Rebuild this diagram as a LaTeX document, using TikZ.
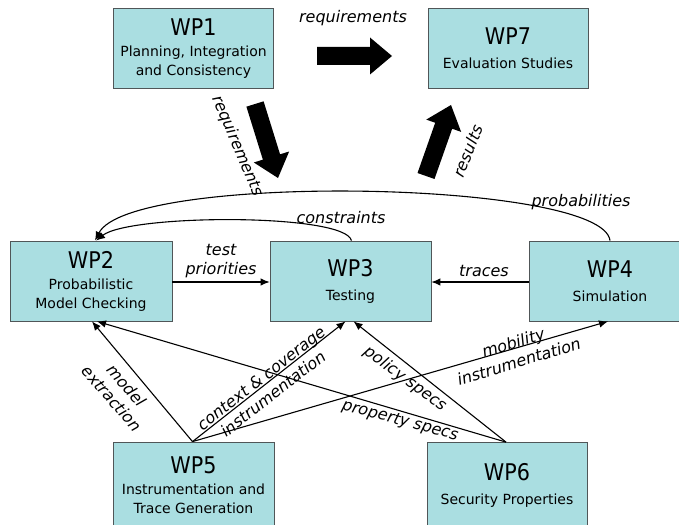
\documentclass[tikz,border=0pt]{standalone}
\usepackage{fontspec}
\setmainfont{DejaVu Sans}
\newfontfamily\condf{DejaVu Sans Condensed}
\usetikzlibrary{calc,arrows.meta}
\definecolor{boxfill}{RGB}{170,222,225}
\definecolor{boxline}{RGB}{80,86,88}
\newcommand\fatarr[2]{%
  \fill[black] ($(#1)!9pt!90:(#2)$) -- ($($(#2)!22pt!(#1)$)!9pt!-90:(#1)$)
    -- ($($(#2)!22pt!(#1)$)!18.5pt!-90:(#1)$) -- (#2)
    -- ($($(#2)!22pt!(#1)$)!18.5pt!90:(#1)$) -- ($($(#2)!22pt!(#1)$)!9pt!90:(#1)$)
    -- ($(#1)!9pt!-90:(#2)$) -- cycle;}
\tikzset{
  wpbox/.style={draw=boxline, line width=0.8pt, fill=boxfill, minimum width=160pt,
    minimum height=80pt, inner sep=0pt, align=center,
    font=\fontsize{14}{19}\selectfont},
  conn/.style={line width=1.1pt, -{Latex[length=9pt,width=7.5pt]}},
  lab/.style={font=\fontsize{16}{19.5}\selectfont\itshape, inner sep=0pt, align=center},
}
\newcommand\wpt[1]{{\condf\fontsize{23}{25}\selectfont #1}}
\begin{document}
\begin{tikzpicture}[x=1pt,y=-1pt]
\useasboundingbox (0,0) rectangle (679,524);
% boxes
\node[wpbox] (WP1) at (193.5,48.5) {\wpt{WP1}\\[2pt]Planning, Integration\\and Consistency};
\node[wpbox] (WP7) at (508,48.5) {\wpt{WP7}\\[5pt]Evaluation Studies};
\node[wpbox, minimum width=162pt] (WP2) at (91,281) {\wpt{WP2}\\[2pt]Probabilistic\\Model Checking};
\node[wpbox, minimum width=161pt] (WP3) at (350.5,281) {\wpt{WP3}\\[5pt]Testing};
\node[wpbox, minimum width=162pt] (WP4) at (610,281) {\wpt{WP4}\\[5pt]Simulation};
\node[wpbox, minimum width=161pt, minimum height=86pt] (WP5) at (193.5,485) {\wpt{WP5}\\[2pt]Instrumentation and\\Trace Generation};
\node[wpbox, minimum height=86pt] (WP6) at (507,485.5) {\wpt{WP6}\\[5pt]Security Properties};
% fat arrows
\coordinate (ra) at (317,56); \coordinate (rb) at (392,56);
\coordinate (da) at (255,104); \coordinate (db) at (278,178);
\coordinate (ua) at (426,176); \coordinate (ub) at (451,105);
\fatarr{ra}{rb}
\fatarr{da}{db}
\fatarr{ua}{ub}
\node[lab] (lreq1) at (353,18) {requirements};
\node[lab, rotate=-67] (lreq2) at (237,146) {requirements};
\node[lab, rotate=68] (lres) at (468,151) {results};
% curves
\draw[conn] (WP4.north) .. controls (603,180) and (130,172) .. ($(WP2.north)+(4,0)$);
\draw[conn] ($(WP3.north)+(1,0)$) .. controls (345,213) and (130,214) .. ($(WP2.north)+(5,0)$);
\node[lab] (lprob) at (581,202) {probabilities};
\node[lab] (lcons) at (341,218) {constraints};
% horizontal
\draw[conn] (WP2.east |- 0,282) -- (WP3.west |- 0,282);
\draw[conn] (WP4.west |- 0,282) -- (WP3.east |- 0,282);
\node[lab] (ltest) at (221,261) {test\\priorities};
\node[lab] (ltrace) at (484,271) {traces};
% bottom connectors
\draw[conn] ($(WP5.north)+(-1,0)$) -- ($(WP2.south)+(1,0)$);
\draw[conn] ($(WP5.north)+(-1,0)$) -- ($(WP3.south)+(-5,0)$);
\draw[conn] ($(WP5.north)+(-1,0)$) -- ($(WP4.south)+(-2,0)$);
\draw[conn] ($(WP6.north)+(-1,0)$) -- ($(WP2.south)+(6,0)$);
\draw[conn] ($(WP6.north)+(-1,0)$) -- ($(WP3.south)+(3,0)$);
\node[lab, rotate=-49] (lmodel) at (119,392) {model\\extraction};
\node[lab, rotate=38] (lctx) at (267,386) {context \& coverage\\instrumentation};
\node[lab, rotate=17] (lmob) at (516,352) {mobility\\instrumentation};
\node[lab, rotate=-36] (lpol) at (405,379) {policy specs};
\node[lab, rotate=-15] (lprop) at (400,421) {property specs};
\end{tikzpicture}
\end{document}
